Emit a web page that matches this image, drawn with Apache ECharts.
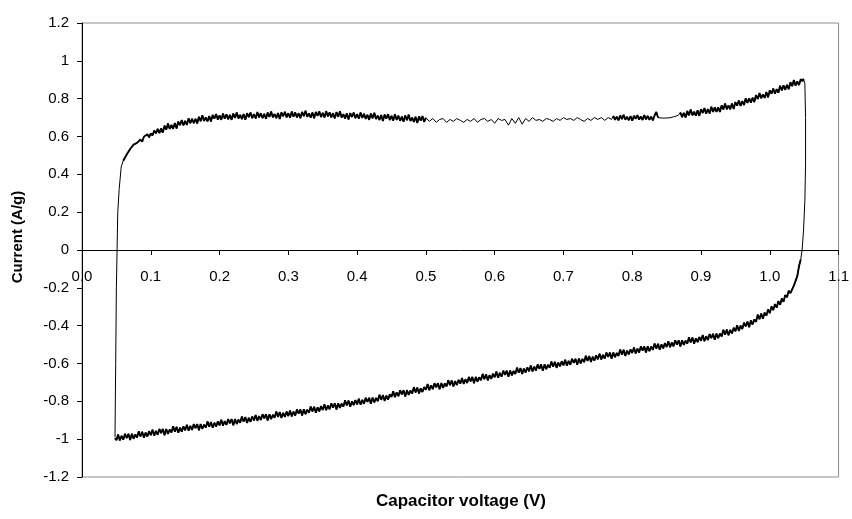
<!DOCTYPE html>
<html><head><meta charset="utf-8">
<script src="https://cdn.jsdelivr.net/npm/echarts@6/dist/echarts.min.js"></script>
<style>html,body{margin:0;padding:0;background:#fff}#c{width:852px;height:519px}</style>
</head><body><div id="c"></div>
<script>
// Cyclic voltammogram: [voltage (V), current (A/g)]
const riseBranch = [[0.048,-0.99],[0.049,-0.6],[0.050,-0.2],[0.051,0],[0.052,0.2],[0.054,0.32],[0.057,0.44]];
const upperDenseLeft = [
[0.0600,0.472],[0.0625,0.475],[0.0650,0.505],[0.0675,0.502],[0.0700,0.534],[0.0725,0.530],[0.0750,0.557],[0.0775,0.547],
[0.0800,0.566],[0.0825,0.560],[0.0850,0.584],[0.0875,0.572],[0.0900,0.599],[0.0925,0.590],[0.0950,0.612],[0.0975,0.596],
[0.1000,0.616],[0.1025,0.605],[0.1050,0.632],[0.1075,0.617],[0.1100,0.640],[0.1125,0.618],[0.1150,0.643],[0.1175,0.621],
[0.1200,0.657],[0.1225,0.636],[0.1250,0.669],[0.1275,0.640],[0.1300,0.661],[0.1325,0.641],[0.1350,0.671],[0.1375,0.642],
[0.1400,0.679],[0.1425,0.660],[0.1450,0.687],[0.1475,0.659],[0.1500,0.683],[0.1525,0.661],[0.1550,0.696],[0.1575,0.670],
[0.1600,0.694],[0.1625,0.670],[0.1650,0.694],[0.1675,0.669],[0.1700,0.704],[0.1725,0.681],[0.1750,0.712],[0.1775,0.682],
[0.1800,0.701],[0.1825,0.680],[0.1850,0.708],[0.1875,0.679],[0.1900,0.714],[0.1925,0.694],[0.1950,0.719],[0.1975,0.689],
[0.2000,0.712],[0.2025,0.688],[0.2050,0.722],[0.2075,0.694],[0.2100,0.717],[0.2125,0.691],[0.2150,0.714],[0.2175,0.688],
[0.2200,0.721],[0.2225,0.698],[0.2250,0.727],[0.2275,0.695],[0.2300,0.714],[0.2325,0.692],[0.2350,0.719],[0.2375,0.689],
[0.2400,0.723],[0.2425,0.702],[0.2450,0.727],[0.2475,0.697],[0.2500,0.719],[0.2525,0.695],[0.2550,0.729],[0.2575,0.701],
[0.2600,0.723],[0.2625,0.697],[0.2650,0.720],[0.2675,0.694],[0.2700,0.727],[0.2725,0.703],[0.2750,0.732],[0.2775,0.701],
[0.2800,0.719],[0.2825,0.697],[0.2850,0.724],[0.2875,0.693],[0.2900,0.728],[0.2925,0.707],[0.2950,0.731],[0.2975,0.701],
[0.3000,0.723],[0.3025,0.699],[0.3050,0.732],[0.3075,0.705],[0.3100,0.727],[0.3125,0.701],[0.3150,0.723],[0.3175,0.697],
[0.3200,0.730],[0.3225,0.707],[0.3250,0.736],[0.3275,0.704],[0.3300,0.722],[0.3325,0.700],[0.3350,0.727],[0.3375,0.696],
[0.3400,0.730],[0.3425,0.709],[0.3450,0.733],[0.3475,0.703],[0.3500,0.725],[0.3525,0.701],[0.3550,0.734],[0.3575,0.706],
[0.3600,0.728],[0.3625,0.701],[0.3650,0.723],[0.3675,0.696],[0.3700,0.729],[0.3725,0.704],[0.3750,0.733],[0.3775,0.700],
[0.3800,0.718],[0.3825,0.695],[0.3850,0.722],[0.3875,0.690],[0.3900,0.724],[0.3925,0.703],[0.3950,0.727],[0.3975,0.697],
[0.4000,0.719],[0.4025,0.694],[0.4050,0.727],[0.4075,0.698],[0.4100,0.720],[0.4125,0.693],[0.4150,0.715],[0.4175,0.688],
[0.4200,0.721],[0.4225,0.696],[0.4250,0.725],[0.4275,0.692],[0.4300,0.710],[0.4325,0.687],[0.4350,0.714],[0.4375,0.682],
[0.4400,0.716],[0.4425,0.694],[0.4450,0.718],[0.4475,0.687],[0.4500,0.709],[0.4525,0.684],[0.4550,0.717],[0.4575,0.688],
[0.4600,0.710],[0.4625,0.683],[0.4650,0.705],[0.4675,0.678],[0.4700,0.711],[0.4725,0.686],[0.4750,0.715],[0.4775,0.682],
[0.4800,0.700],[0.4825,0.677],[0.4850,0.704],[0.4875,0.672],[0.4900,0.706],[0.4925,0.684],[0.4950,0.708],[0.4975,0.677],
[0.5000,0.699]
];
const upperThin = [
[0.505,0.68],[0.510,0.695],[0.515,0.675],[0.520,0.69],[0.525,0.695],[0.530,0.675],[0.535,0.69],
[0.540,0.68],[0.545,0.695],[0.550,0.685],[0.555,0.675],[0.560,0.69],[0.565,0.68],[0.570,0.695],[0.575,0.675],
[0.580,0.69],[0.585,0.695],[0.590,0.68],[0.595,0.69],[0.600,0.67],[0.605,0.695],[0.610,0.685],[0.615,0.69],
[0.620,0.66],[0.625,0.695],[0.630,0.67],[0.635,0.70],[0.640,0.665],[0.645,0.695],[0.650,0.68],[0.655,0.70],
[0.660,0.685],[0.665,0.69],[0.670,0.68],[0.675,0.695],[0.680,0.69],[0.685,0.68],[0.690,0.695],[0.695,0.685],
[0.700,0.70],[0.705,0.69],[0.710,0.695],[0.715,0.685],[0.720,0.70],[0.725,0.69],[0.730,0.68],[0.735,0.695],
[0.740,0.685],[0.745,0.70],[0.750,0.69],[0.755,0.70],[0.760,0.685],[0.765,0.70],[0.770,0.69]
];
const upperDenseMid = [
[0.7725,0.709],[0.7750,0.688],[0.7775,0.705],[0.7800,0.685],[0.7825,0.711],[0.7850,0.692],[0.7875,0.715],[0.7900,0.689],
[0.7925,0.704],[0.7950,0.686],[0.7975,0.708],[0.8000,0.683],[0.8025,0.710],[0.8050,0.693],[0.8075,0.713],[0.8100,0.689],
[0.8125,0.706],[0.8150,0.687],[0.8175,0.713],[0.8200,0.691],[0.8225,0.709],[0.8250,0.688],[0.8275,0.705],[0.8300,0.685],
[0.8325,0.711],[0.8350,0.730],[0.8375,0.700]
];
const upperSmooth = [[0.845,0.697],[0.855,0.699],[0.862,0.706],[0.867,0.712]];
const upperDenseRight = [
[0.8700,0.727],[0.8725,0.702],[0.8750,0.725],[0.8775,0.701],[0.8800,0.735],[0.8825,0.712],[0.8850,0.742],[0.8875,0.712],
[0.8900,0.731],[0.8925,0.710],[0.8950,0.738],[0.8975,0.709],[0.9000,0.744],[0.9025,0.724],[0.9050,0.750],[0.9075,0.721],
[0.9100,0.745],[0.9125,0.722],[0.9150,0.757],[0.9175,0.730],[0.9200,0.754],[0.9225,0.730],[0.9250,0.754],[0.9275,0.730],
[0.9300,0.765],[0.9325,0.743],[0.9350,0.774],[0.9375,0.744],[0.9400,0.764],[0.9425,0.744],[0.9450,0.774],[0.9475,0.745],
[0.9500,0.782],[0.9525,0.763],[0.9550,0.790],[0.9575,0.762],[0.9600,0.787],[0.9625,0.766],[0.9650,0.802],[0.9675,0.777],
[0.9700,0.802],[0.9725,0.779],[0.9750,0.805],[0.9775,0.782],[0.9800,0.819],[0.9825,0.798],[0.9850,0.830],[0.9875,0.802],
[0.9900,0.823],[0.9925,0.804],[0.9950,0.835],[0.9975,0.807],[1.0000,0.844],[1.0025,0.826],[1.0050,0.853],[1.0075,0.826],
[1.0100,0.851],[1.0125,0.831],[1.0150,0.868],[1.0175,0.844],[1.0200,0.870],[1.0225,0.847],[1.0250,0.873],[1.0275,0.850],
[1.0300,0.887],[1.0325,0.866],[1.0350,0.898],[1.0375,0.869],[1.0400,0.891],[1.0425,0.872],[1.0450,0.903],[1.0475,0.892],
[1.0490,0.905]
];
const dropBranch = [[1.051,0.88],[1.052,0.70],[1.052,0.45],[1.051,0.26],[1.049,0.10],[1.047,0]];
const lowerRight = [
[1.0450,-0.050],[1.0425,-0.085],[1.0400,-0.138],[1.0375,-0.148],[1.0350,-0.188],[1.0325,-0.185],[1.0300,-0.228],[1.0275,-0.215],
[1.0250,-0.250],[1.0225,-0.238],[1.0200,-0.274],[1.0175,-0.256],[1.0150,-0.290],[1.0125,-0.270],[1.0100,-0.305],[1.0075,-0.286],
[1.0050,-0.318],[1.0025,-0.298],[1.0000,-0.334],[0.9975,-0.314],[0.9950,-0.347],[0.9925,-0.331],[0.9900,-0.363],[0.9875,-0.336],
[0.9850,-0.366],[0.9825,-0.342],[0.9800,-0.380],[0.9775,-0.367],[0.9750,-0.394],[0.9725,-0.372],[0.9700,-0.408],[0.9675,-0.378],
[0.9650,-0.404],[0.9625,-0.384],[0.9600,-0.418],[0.9575,-0.400],[0.9550,-0.428],[0.9525,-0.398],[0.9500,-0.430],[0.9475,-0.411],
[0.9450,-0.441],[0.9425,-0.422],[0.9400,-0.451],[0.9375,-0.421],[0.9350,-0.448],[0.9325,-0.422],[0.9300,-0.457],[0.9275,-0.442],
[0.9250,-0.466],[0.9225,-0.442],[0.9200,-0.475],[0.9175,-0.443],[0.9150,-0.466],[0.9125,-0.444],[0.9100,-0.476],[0.9075,-0.456],
[0.9050,-0.482],[0.9025,-0.450],[0.9000,-0.480]
];
const lowerMid = [
[0.8975,-0.460],[0.8950,-0.487],[0.8925,-0.467],[0.8900,-0.495],[0.8875,-0.463],[0.8850,-0.489],[0.8825,-0.461],[0.8800,-0.495],
[0.8775,-0.479],[0.8750,-0.502],[0.8725,-0.477],[0.8700,-0.510],[0.8675,-0.477],[0.8650,-0.500],[0.8625,-0.477],[0.8600,-0.509],
[0.8575,-0.489],[0.8550,-0.514],[0.8525,-0.483],[0.8500,-0.513],[0.8475,-0.492],[0.8450,-0.520],[0.8425,-0.499],[0.8400,-0.527],
[0.8375,-0.496],[0.8350,-0.521],[0.8325,-0.494],[0.8300,-0.528],[0.8275,-0.511],[0.8250,-0.535],[0.8225,-0.509],[0.8200,-0.542],
[0.8175,-0.510],[0.8150,-0.532],[0.8125,-0.510],[0.8100,-0.542],[0.8075,-0.521],[0.8050,-0.547],[0.8025,-0.515],[0.8000,-0.545],
[0.7975,-0.525],[0.7950,-0.552],[0.7925,-0.532],[0.7900,-0.560],[0.7875,-0.528],[0.7850,-0.554],[0.7825,-0.526],[0.7800,-0.560],
[0.7775,-0.544],[0.7750,-0.567],[0.7725,-0.542],[0.7700,-0.575],[0.7675,-0.542],[0.7650,-0.565],[0.7625,-0.542],[0.7600,-0.574],
[0.7575,-0.554],[0.7550,-0.579],[0.7525,-0.548],[0.7500,-0.578],[0.7475,-0.557],[0.7450,-0.585],[0.7425,-0.564],[0.7400,-0.592],
[0.7375,-0.561],[0.7350,-0.586],[0.7325,-0.559],[0.7300,-0.593],[0.7275,-0.576],[0.7250,-0.600],[0.7225,-0.574],[0.7200,-0.607],
[0.7175,-0.575],[0.7150,-0.597],[0.7125,-0.575],[0.7100,-0.607],[0.7075,-0.586],[0.7050,-0.612],[0.7025,-0.580],[0.7000,-0.610],
[0.6975,-0.588],[0.6950,-0.615],[0.6925,-0.595],[0.6900,-0.623],[0.6875,-0.591],[0.6850,-0.617],[0.6825,-0.589],[0.6800,-0.623],
[0.6775,-0.607],[0.6750,-0.630],[0.6725,-0.605],[0.6700,-0.638],[0.6675,-0.605],[0.6650,-0.628],[0.6625,-0.605],[0.6600,-0.637],
[0.6575,-0.617],[0.6550,-0.642],[0.6525,-0.611],[0.6500,-0.641],[0.6475,-0.620],[0.6450,-0.648],[0.6425,-0.627],[0.6400,-0.655],
[0.6375,-0.624],[0.6350,-0.649],[0.6325,-0.622],[0.6300,-0.656],[0.6275,-0.639],[0.6250,-0.663],[0.6225,-0.637],[0.6200,-0.670],
[0.6175,-0.638],[0.6150,-0.660],[0.6125,-0.638],[0.6100,-0.670],[0.6075,-0.649],[0.6050,-0.675],[0.6025,-0.643],[0.6000,-0.673],
[0.5975,-0.654],[0.5950,-0.681],[0.5925,-0.661],[0.5900,-0.689],[0.5875,-0.657],[0.5850,-0.683],[0.5825,-0.655],[0.5800,-0.689],
[0.5775,-0.673],[0.5750,-0.696],[0.5725,-0.671],[0.5700,-0.704],[0.5675,-0.671],[0.5650,-0.694],[0.5625,-0.671],[0.5600,-0.703],
[0.5575,-0.683],[0.5550,-0.708],[0.5525,-0.677],[0.5500,-0.707],[0.5475,-0.686],[0.5450,-0.714],[0.5425,-0.693],[0.5400,-0.721],
[0.5375,-0.690],[0.5350,-0.715],[0.5325,-0.688],[0.5300,-0.722],[0.5275,-0.705],[0.5250,-0.729],[0.5225,-0.703],[0.5200,-0.736],
[0.5175,-0.704],[0.5150,-0.726],[0.5125,-0.704],[0.5100,-0.736],[0.5075,-0.715],[0.5050,-0.741],[0.5025,-0.709],[0.5000,-0.739]
];
const lowerLeft = [
[0.4975,-0.724],[0.4950,-0.751],[0.4925,-0.731],[0.4900,-0.759],[0.4875,-0.727],[0.4850,-0.753],[0.4825,-0.725],[0.4800,-0.759],
[0.4775,-0.743],[0.4750,-0.766],[0.4725,-0.741],[0.4700,-0.774],[0.4675,-0.741],[0.4650,-0.764],[0.4625,-0.741],[0.4600,-0.773],
[0.4575,-0.753],[0.4550,-0.778],[0.4525,-0.747],[0.4500,-0.777],[0.4475,-0.763],[0.4450,-0.791],[0.4425,-0.770],[0.4400,-0.798],
[0.4375,-0.767],[0.4350,-0.792],[0.4325,-0.765],[0.4300,-0.799],[0.4275,-0.782],[0.4250,-0.806],[0.4225,-0.780],[0.4200,-0.813],
[0.4175,-0.781],[0.4150,-0.803],[0.4125,-0.781],[0.4100,-0.813],[0.4075,-0.792],[0.4050,-0.818],[0.4025,-0.786],[0.4000,-0.816],
[0.3975,-0.793],[0.3950,-0.820],[0.3925,-0.800],[0.3900,-0.828],[0.3875,-0.796],[0.3850,-0.822],[0.3825,-0.794],[0.3800,-0.828],
[0.3775,-0.812],[0.3750,-0.835],[0.3725,-0.810],[0.3700,-0.843],[0.3675,-0.810],[0.3650,-0.833],[0.3625,-0.810],[0.3600,-0.842],
[0.3575,-0.822],[0.3550,-0.847],[0.3525,-0.816],[0.3500,-0.846],[0.3475,-0.825],[0.3450,-0.853],[0.3425,-0.832],[0.3400,-0.860],
[0.3375,-0.829],[0.3350,-0.854],[0.3325,-0.827],[0.3300,-0.861],[0.3275,-0.844],[0.3250,-0.868],[0.3225,-0.842],[0.3200,-0.875],
[0.3175,-0.843],[0.3150,-0.865],[0.3125,-0.843],[0.3100,-0.875],[0.3075,-0.854],[0.3050,-0.880],[0.3025,-0.848],[0.3000,-0.878],
[0.2975,-0.854],[0.2950,-0.882],[0.2925,-0.861],[0.2900,-0.888],[0.2875,-0.857],[0.2850,-0.882],[0.2825,-0.854],[0.2800,-0.887],
[0.2775,-0.871],[0.2750,-0.894],[0.2725,-0.868],[0.2700,-0.901],[0.2675,-0.868],[0.2650,-0.890],[0.2625,-0.868],[0.2600,-0.899],
[0.2575,-0.878],[0.2550,-0.903],[0.2525,-0.872],[0.2500,-0.901],[0.2475,-0.880],[0.2450,-0.908],[0.2425,-0.887],[0.2400,-0.914],
[0.2375,-0.883],[0.2350,-0.908],[0.2325,-0.880],[0.2300,-0.913],[0.2275,-0.897],[0.2250,-0.920],[0.2225,-0.894],[0.2200,-0.927],
[0.2175,-0.894],[0.2150,-0.916],[0.2125,-0.894],[0.2100,-0.925],[0.2075,-0.904],[0.2050,-0.929],[0.2025,-0.898],[0.2000,-0.927],
[0.1975,-0.906],[0.1950,-0.934],[0.1925,-0.913],[0.1900,-0.940],[0.1875,-0.909],[0.1850,-0.934],[0.1825,-0.906],[0.1800,-0.939],
[0.1775,-0.923],[0.1750,-0.946],[0.1725,-0.920],[0.1700,-0.953],[0.1675,-0.920],[0.1650,-0.942],[0.1625,-0.920],[0.1600,-0.951],
[0.1575,-0.930],[0.1550,-0.955],[0.1525,-0.924],[0.1500,-0.953],[0.1475,-0.932],[0.1450,-0.960],[0.1425,-0.939],[0.1400,-0.966],
[0.1375,-0.935],[0.1350,-0.960],[0.1325,-0.932],[0.1300,-0.965],[0.1275,-0.949],[0.1250,-0.972],[0.1225,-0.946],[0.1200,-0.979],
[0.1175,-0.946],[0.1150,-0.968],[0.1125,-0.946],[0.1100,-0.977],[0.1075,-0.956],[0.1050,-0.981],[0.1025,-0.950],[0.1000,-0.979],
[0.0975,-0.958],[0.0950,-0.986],[0.0925,-0.965],[0.0900,-0.992],[0.0875,-0.961],[0.0850,-0.986],[0.0825,-0.958],[0.0800,-0.991],
[0.0775,-0.975],[0.0750,-0.998],[0.0725,-0.972],[0.0700,-1.005],[0.0675,-0.972],[0.0650,-0.994],[0.0625,-0.972],[0.0600,-1.003],
[0.0575,-0.982],[0.0550,-1.007],[0.0525,-0.976],[0.0500,-1.005],[0.0480,-0.995]
];
const xTickLabels = ['0.0','0.1','0.2','0.3','0.4','0.5','0.6','0.7','0.8','0.9','1.0','1.1'];
const xTitle = 'Capacitor voltage (V)';
const yTitle = 'Current (A/g)';

const FONT = '"Liberation Sans", Arial, sans-serif';
const GRID = {left: 82, right: 13, top: 23, bottom: 42};
const chart = echarts.init(document.getElementById('c'), null, {renderer: 'canvas'});
const loop = riseBranch.concat(upperDenseLeft, upperThin, upperDenseMid, upperSmooth, upperDenseRight,
  dropBranch, lowerRight, lowerMid, lowerLeft);
const plotH = 519 - GRID.top - GRID.bottom;

function trace(data, width) {
  return {type: 'line', data: data, showSymbol: false, symbol: 'none', silent: true,
    lineStyle: {color: '#000', width: width}, clip: true};
}
chart.setOption({
  animation: false,
  backgroundColor: '#fff',
  grid: Object.assign({show: true, borderColor: '#8c8c8c', borderWidth: 1}, GRID),
  graphic: [
    {type: 'text', x: 461, y: 501, style: {text: xTitle, font: 'bold 17px ' + FONT, fill: '#000', align: 'center', verticalAlign: 'middle'}},
    {type: 'text', x: 18, y: 237, rotation: Math.PI / 2, style: {text: yTitle, font: 'bold 15px ' + FONT, fill: '#000', align: 'center', verticalAlign: 'middle'}}
  ],
  xAxis: {
    type: 'value', min: 0, max: 1.1, interval: 0.1,
    offset: -plotH / 2,
    axisLine: {show: true, onZero: false, lineStyle: {color: '#000', width: 1}},
    axisTick: {show: true, length: 5, lineStyle: {color: '#000'}},
    axisLabel: {margin: 19, fontSize: 15, color: '#000', fontFamily: FONT,
      formatter: function (v) { return xTickLabels[Math.round(v * 10)]; }},
    splitLine: {show: false}
  },
  yAxis: {
    type: 'value', min: -1.2, max: 1.2, interval: 0.2,
    axisLine: {show: true, onZero: false, lineStyle: {color: '#000', width: 1}},
    axisTick: {show: true, length: 5, lineStyle: {color: '#000'}},
    axisLabel: {margin: 13, fontSize: 15, color: '#000', fontFamily: FONT},
    splitLine: {show: false}
  },
  series: [
    trace(loop, 1),
    trace(upperDenseLeft, 1.9),
    trace(upperDenseMid, 1.9),
    trace(upperDenseRight, 1.9),
    trace(lowerRight.concat(lowerMid, lowerLeft), 1.9)
  ]
});
</script></body></html>
